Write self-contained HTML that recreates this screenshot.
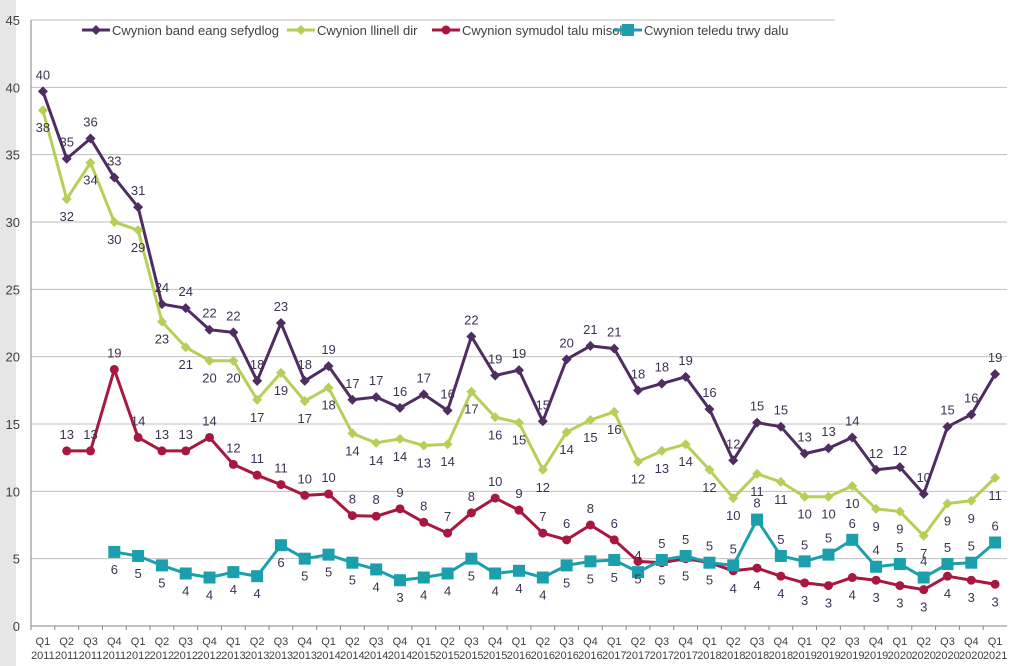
<!DOCTYPE html>
<html><head><meta charset="utf-8"><style>
body{margin:0;background:#fff;}
svg{display:block;font-family:"Liberation Sans",Calibri,sans-serif;}
</style></head><body>
<svg id="chart" width="1012" height="666" viewBox="0 0 1012 666" xmlns="http://www.w3.org/2000/svg">
<rect x="0" y="0" width="16" height="666" fill="#e6e6e6"/>
<g id="grid"></g><g id="axes"></g><g id="series"></g><g id="labels"></g>
<g id="legend"></g>
</svg>
<script>
const quarters=["Q1","Q2","Q3","Q4"];
const categories=[];
for(let y=2011;y<=2021;y++)for(const q of quarters){if(y===2021&&q!=="Q1")break;categories.push(q+" "+y);}
const yTicks=[0,5,10,15,20,25,30,35,40,45];
const broadband=[39.7,34.7,36.2,33.3,31.1,23.9,23.6,22.0,21.8,18.2,22.5,18.2,19.3,16.8,17.0,16.2,17.2,16.0,21.5,18.6,19.0,15.2,19.8,20.8,20.6,17.5,18.0,18.5,16.1,12.3,15.1,14.8,12.8,13.2,14.0,11.6,11.8,9.8,14.8,15.7,18.7];
const landline=[38.3,31.7,34.4,30.0,29.4,22.6,20.7,19.7,19.7,16.8,18.8,16.7,17.7,14.3,13.6,13.9,13.4,13.5,17.4,15.5,15.1,11.6,14.4,15.3,15.9,12.2,13.0,13.5,11.6,9.5,11.3,10.7,9.6,9.6,10.4,8.7,8.5,6.7,9.1,9.3,11.0];
const mobile=[null,13,13,19.05,14,13,13,14,12,11.2,10.5,9.7,9.8,8.2,8.15,8.7,7.7,6.9,8.4,9.5,8.6,6.9,6.4,7.5,6.4,4.8,4.7,5.0,4.7,4.1,4.3,3.7,3.2,3.0,3.6,3.4,3.0,2.7,3.7,3.4,3.1];
const paytv=[null,null,null,5.5,5.2,4.5,3.9,3.6,4.0,3.7,6.0,5.0,5.3,4.7,4.2,3.4,3.6,3.9,5.0,3.9,4.1,3.6,4.5,4.8,4.9,4.0,4.9,5.2,4.7,4.5,7.9,5.2,4.8,5.3,6.4,4.4,4.6,3.6,4.6,4.7,6.2];
const seriesNames=["Cwynion band eang sefydlog","Cwynion llinell dir","Cwynion symudol talu misol","Cwynion teledu trwy dalu"];

const NS="http://www.w3.org/2000/svg";
const X0=31,X1=1007,Y0=626,Y1=20,YMAX=45;
const step=(X1-X0)/categories.length;
const xs=i=>X0+step*(i+0.5);
const ys=v=>Y0-(v/YMAX)*(Y0-Y1);
function mk(tag,attrs,parent){const e=document.createElementNS(NS,tag);for(const k in attrs)e.setAttribute(k,attrs[k]);parent.appendChild(e);return e;}
const grid=document.getElementById('grid'),axes=document.getElementById('axes'),ser=document.getElementById('series'),lab=document.getElementById('labels');
yTicks.forEach(t=>{
  const l=mk('line',{x1:X0,x2:t===45?835:X1,y1:ys(t),y2:ys(t),stroke:'#bfbfbf','stroke-width':1},grid);
  
  
  const tx=mk('text',{x:20,y:ys(t)+5,'text-anchor':'end','font-size':13,fill:'#404040'},axes);
  tx.textContent=t;
  
  
});
const ax=mk('line',{x1:X0,x2:X0,y1:Y1,y2:Y0,stroke:'#868686'},axes);


const bx=mk('line',{x1:X0,x2:X1,y1:Y0,y2:Y0,stroke:'#868686'},axes);


categories.forEach((c,i)=>{
  const tk=mk('line',{x1:X0+step*i,x2:X0+step*i,y1:Y0,y2:Y0+4,stroke:'#868686'},axes);
  
  
  const [q,y]=c.split(' ');
  const t1=mk('text',{x:xs(i),y:Y0+19,'text-anchor':'middle','font-size':11,fill:'#404040'},axes);t1.textContent=q;
  
  
  const t2=mk('text',{x:xs(i),y:Y0+33,'text-anchor':'middle','font-size':11,fill:'#404040'},axes);t2.textContent=y;
  
  
});
function marker(type,x,y,color,parent){
  let e;
  if(type==='diamond')e=mk('path',{d:`M${x} ${y-5}L${x+5} ${y}L${x} ${y+5}L${x-5} ${y}Z`,fill:color},parent);
  else if(type==='circle')e=mk('circle',{cx:x,cy:y,r:4.5,fill:color},parent);
  else e=mk('rect',{x:x-6,y:y-6,width:12,height:12,fill:color},parent);
  return e;
}
const defs=[
 {data:broadband,color:'#4f2d62',m:'diamond',key:'broadband'},
 {data:landline,color:'#b6cf58',m:'diamond',key:'landline'},
 {data:mobile,color:'#a8173f',m:'circle',key:'mobile'},
 {data:paytv,color:'#1c9fad',m:'square',key:'paytv'}
];
defs.forEach((s,si)=>{
  const g=mk('g',{},ser);
  
  
  let d='';
  s.data.forEach((v,i)=>{if(v==null)return;d+=(d?'L':'M')+xs(i)+' '+ys(v);});
  const p=mk('path',{d:d,fill:'none',stroke:s.color,'stroke-width':3,'stroke-linejoin':'round'},g);
  
  
  s.data.forEach((v,i)=>{
    if(v==null)return;
    const m=marker(s.m,xs(i),ys(v),s.color,g);
    
    
    let above;
    if(si===0)above=true;else if(si===1)above=false;
    else if(si===2)above=(paytv[i]==null||v>paytv[i]+1);
    else above=(mobile[i]==null||v>=mobile[i]-1);
    const ty=above?ys(v)-12:ys(v)+22;
    const t=mk('text',{x:xs(i),y:ty,'text-anchor':'middle','font-size':13,fill:'#403152'},lab);
    t.textContent=Math.round(v);
    
    
  });
});
const leg=document.getElementById('legend');
const lx=[82,287,432,614];
defs.forEach((s,i)=>{
  const g=mk('g',{},leg);
  
  
  mk('line',{x1:lx[i],x2:lx[i]+28,y1:30,y2:30,stroke:s.color,'stroke-width':3},g);
  marker(s.m,lx[i]+14,30,s.color,g);
  const t=mk('text',{x:lx[i]+30,y:35,'font-size':13,fill:'#404040'},g);
  t.textContent=seriesNames[i];
});
</script>
</body></html>
